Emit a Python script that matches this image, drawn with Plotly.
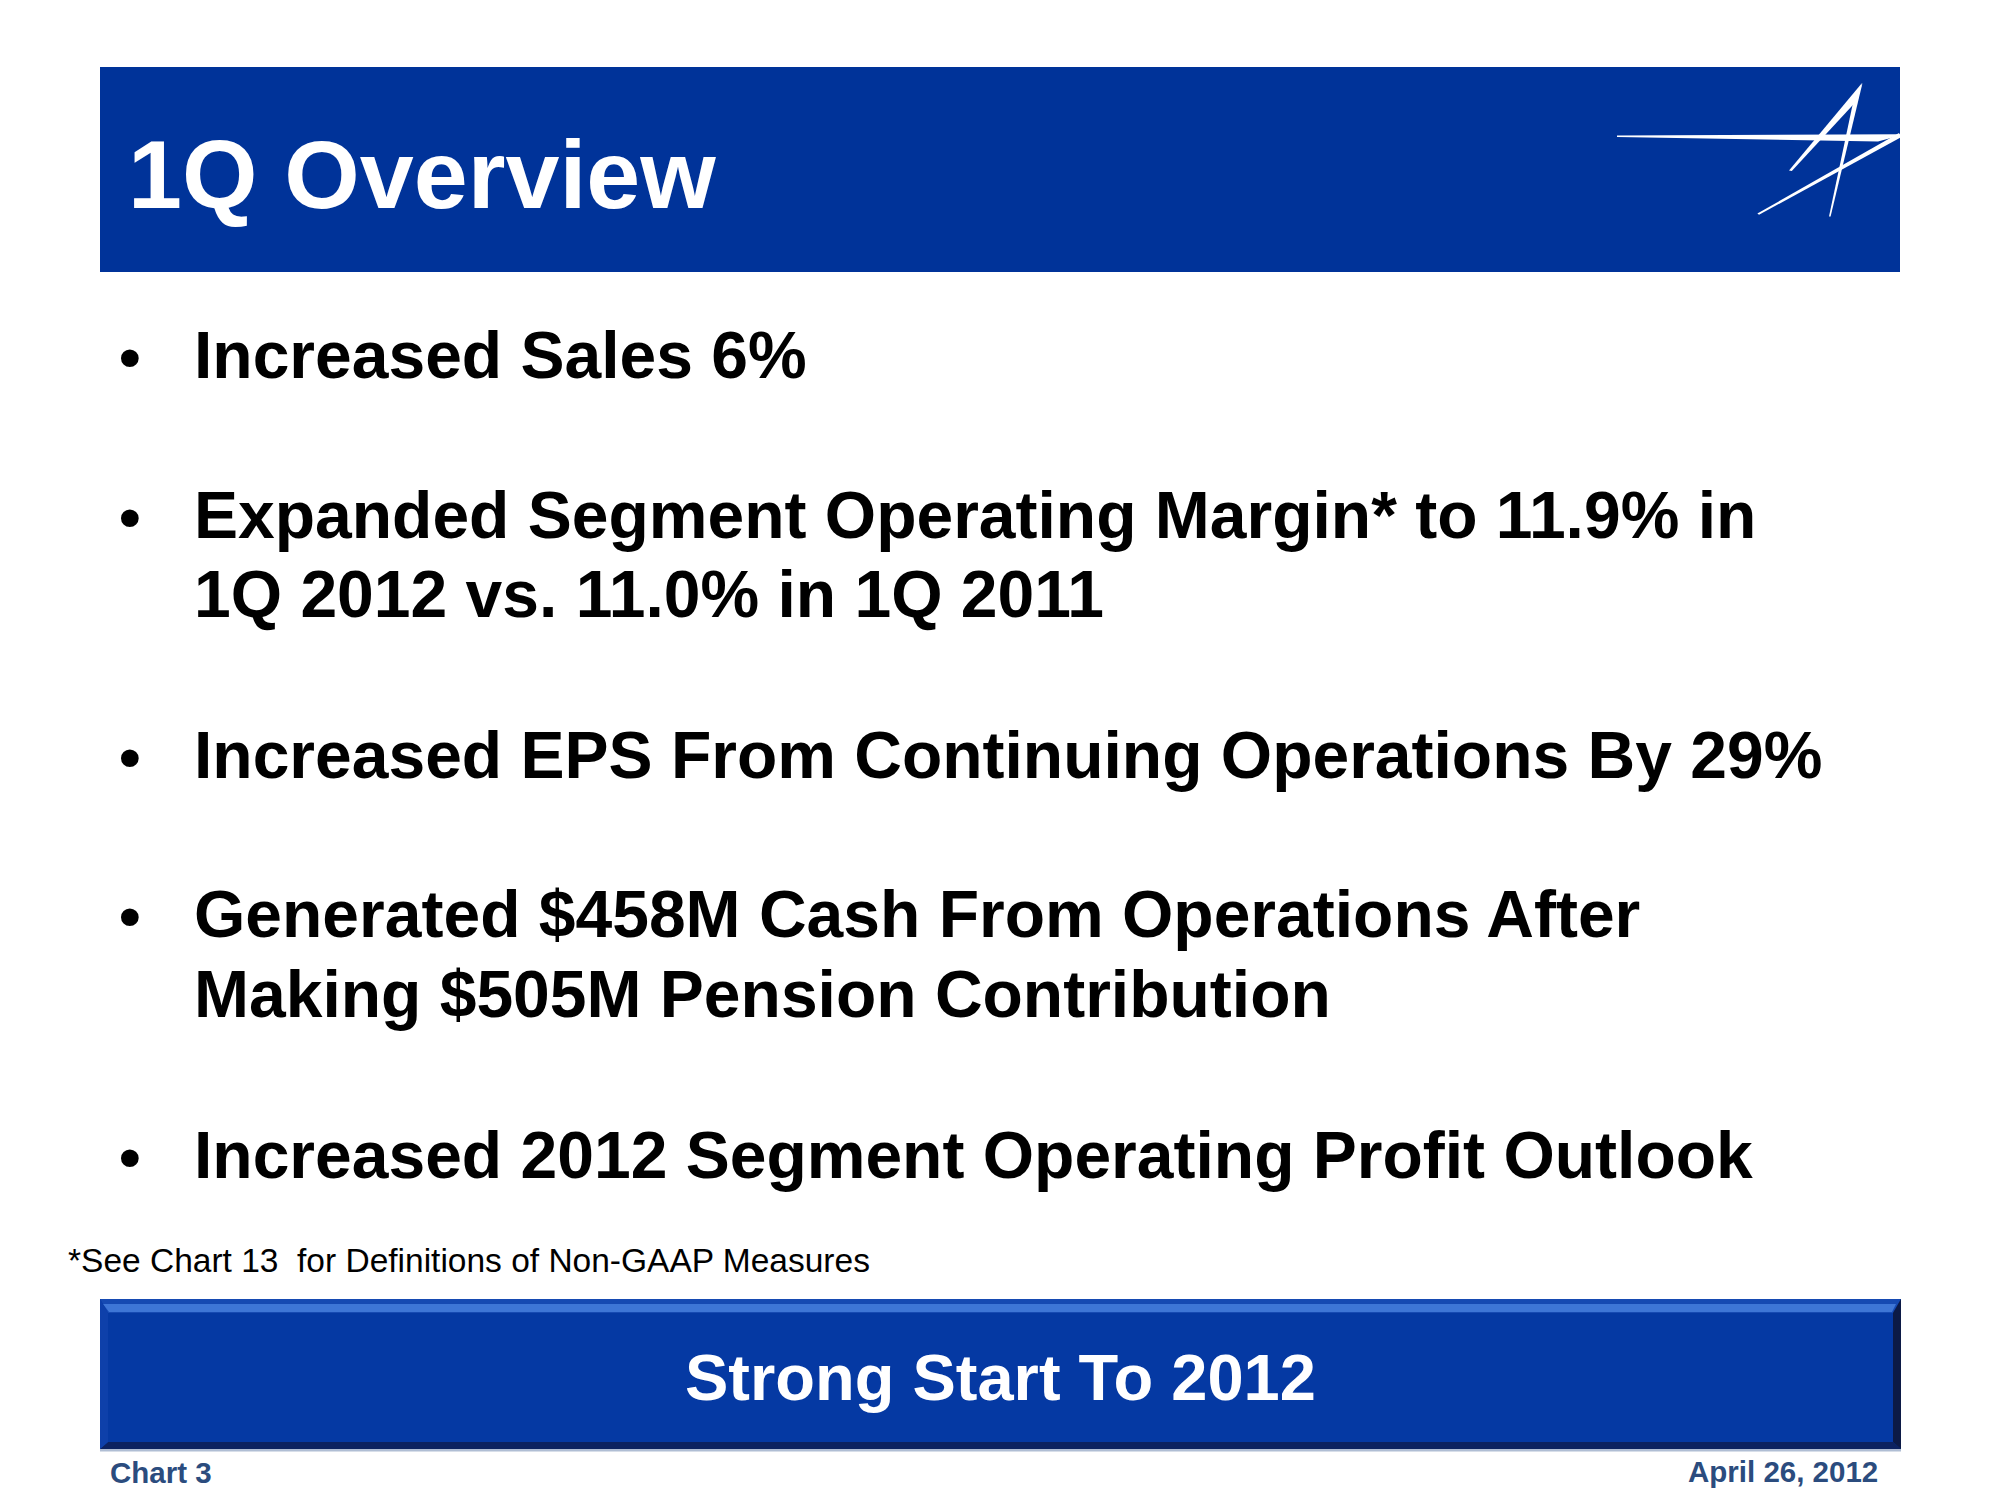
import plotly.graph_objects as go

# ---------------- content ----------------
title_text = "1Q Overview"
bullet_lines = [
    "Increased Sales 6%",
    "Expanded Segment Operating Margin* to 11.9% in",
    "1Q 2012 vs. 11.0% in 1Q 2011",
    "Increased EPS From Continuing Operations By 29%",
    "Generated $458M Cash From Operations After",
    "Making $505M Pension Contribution",
    "Increased 2012 Segment Operating Profit Outlook",
]
bullet_flags = [True, True, False, True, True, False, True]
line_baselines = [378, 538, 617, 778, 937, 1017, 1178]
footnote_text = "*See Chart 13  for Definitions of Non-GAAP Measures"
banner_text = "Strong Start To 2012"
footer_left = "Chart 3"
footer_right = "April 26, 2012"

# ---------------- styles ----------------
W, H = 2000, 1500
FONT = "Liberation Sans, Arial, Helvetica, sans-serif"
HEADER_BLUE = "rgb(0,51,153)"
BANNER_BLUE = "rgb(5,57,163)"
FOOT_COLOR = "rgb(43,76,126)"
ASC = 0.3465  # baseline -> middle offset factor

fig = go.Figure()
fig.update_xaxes(range=[0, W], visible=False, fixedrange=True)
fig.update_yaxes(range=[H, 0], visible=False, fixedrange=True)

shapes = []
# header bar
shapes.append(dict(type="rect", x0=100, x1=1900, y0=67, y1=272,
                   fillcolor=HEADER_BLUE, line=dict(width=0), layer="below"))


def poly(pts, color):
    d = "M " + " L ".join(f"{x},{y}" for x, y in pts) + " Z"
    return dict(type="path", path=d, fillcolor=color, line=dict(width=0))


# logo (star mark)
shapes.append(poly([(1617, 135.5), (1900, 134.3), (1900, 135.6), (1878, 141.5), (1617, 137)], "white"))
shapes.append(poly([(1899, 133), (1901, 137.2), (1759, 214.8), (1757.4, 213.6)], "white"))
shapes.append(poly([(1862, 83), (1789, 170.5), (1791.8, 171), (1857.5, 100)], "white"))
shapes.append(poly([(1862.5, 83), (1830.6, 216.5), (1829, 216.5), (1854, 98)], "white"))

# banner with bevel
bx0, bx1, by0, by1 = 100, 1901, 1299, 1449
shapes.append(dict(type="rect", x0=bx0, x1=bx1, y0=by0, y1=by1,
                   fillcolor=BANNER_BLUE, line=dict(width=0)))
shapes.append(poly([(bx0, by0), (bx1, by0), (bx1 - 8, by0 + 14), (bx0 + 8, by0 + 14)], "rgb(22,74,178)"))
shapes.append(poly([(bx0 + 3, by0 + 5), (bx1 - 5, by0 + 5), (bx1 - 9, by0 + 13), (bx0 + 9, by0 + 13)], "rgb(62,118,214)"))
shapes.append(poly([(bx0, by1), (bx1, by1), (bx1 - 8, by1 - 7), (bx0 + 8, by1 - 7)], "rgb(12,34,96)"))
shapes.append(poly([(bx1, by0), (bx1, by1), (bx1 - 8, by1 - 7), (bx1 - 8, by0 + 14)], "rgb(12,26,70)"))
shapes.append(poly([(bx0, by0), (bx0, by1), (bx0 + 8, by1 - 7), (bx0 + 8, by0 + 14)], "rgb(14,64,170)"))
shapes.append(dict(type="rect", x0=bx0, x1=bx1, y0=by1, y1=by1 + 2.5,
                   fillcolor="rgb(176,190,212)", line=dict(width=0)))

annotations = []


def add_text(txt, x, baseline, size, color, anchor="left", weight=700):
    annotations.append(dict(
        text=txt, x=x, y=baseline - ASC * size, xref="x", yref="y",
        xanchor=anchor, yanchor="middle", showarrow=False,
        font=dict(family=FONT, size=size, color=color, weight=weight),
    ))


add_text(title_text, 126, 208, 97, "white")

for txt, flag, bl in zip(bullet_lines, bullet_flags, line_baselines):
    if flag:
        add_text("\u2022", 130, bl, 62, "black", anchor="center")
    add_text(txt, 192, bl, 66, "black")

add_text(footnote_text, 66, 1272, 33.5, "black", weight=400)
add_text(banner_text, 1000, 1400, 65, "white", anchor="center")
add_text(footer_left, 108, 1483, 29.5, FOOT_COLOR)
add_text(footer_right, 1880, 1482, 29.5, FOOT_COLOR, anchor="right")

fig.update_layout(
    width=W, height=H, margin=dict(l=0, r=0, t=0, b=0),
    paper_bgcolor="white", plot_bgcolor="white",
    shapes=shapes, annotations=annotations, showlegend=False,
)

fig.write_html("out.html", config={"displayModeBar": False},
               post_script="document.body.style.margin='0';document.body.style.overflow='hidden';")
